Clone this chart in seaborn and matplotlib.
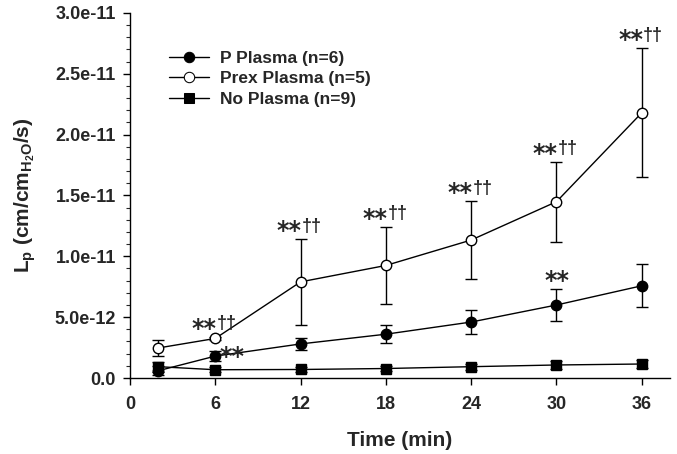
import numpy as np
import pandas as pd
import seaborn as sns
import matplotlib.pyplot as plt
from matplotlib.ticker import FuncFormatter, MultipleLocator

# values
time = [2, 6, 12, 18, 24, 30, 36]
p_mean = [0.6e-12, 1.8e-12, 2.8e-12, 3.6e-12, 4.6e-12, 6.0e-12, 7.58e-12]
p_err = [0.35e-12, 0.4e-12, 0.5e-12, 0.75e-12, 0.95e-12, 1.35e-12, 1.78e-12]
prex_mean = [2.47e-12, 3.25e-12, 7.9e-12, 9.25e-12, 1.134e-11, 1.449e-11, 2.18e-11]
prex_err = [0.65e-12, 0.15e-12, 3.55e-12, 3.2e-12, 3.2e-12, 3.3e-12, 5.3e-12]
nop_mean = [0.93e-12, 0.68e-12, 0.7e-12, 0.78e-12, 0.93e-12, 1.07e-12, 1.15e-12]
nop_err = [0.4e-12, 0.2e-12, 0.2e-12, 0.2e-12, 0.25e-12, 0.3e-12, 0.35e-12]
groups = ['P Plasma (n=6)', 'Prex Plasma (n=5)', 'No Plasma (n=9)']
# significance marks: "**††" on prex, "**" on P
dagger_times = [6, 12, 18, 24, 30, 36]
star_p_times = [6, 30]

sns.set_style('ticks')
plt.rcParams['font.family'] = ['Liberation Sans', 'DejaVu Sans']
plt.rcParams['font.weight'] = 'bold'
plt.rcParams['mathtext.fontset'] = 'custom'
plt.rcParams['mathtext.rm'] = 'Liberation Sans:bold'
plt.rcParams['mathtext.it'] = 'Liberation Sans:bold'
plt.rcParams['mathtext.bf'] = 'Liberation Sans:bold'

df = pd.DataFrame({
    'Time': time * 3,
    'Lp': p_mean + prex_mean + nop_mean,
    'group': [groups[0]] * 7 + [groups[1]] * 7 + [groups[2]] * 7,
})

fig = plt.figure(figsize=(6.77, 4.54), dpi=100)
ax = fig.add_axes([0.192, 0.1674, 0.798, 0.804])

# error bars first so markers sit on top
for m, e in [(p_mean, p_err), (prex_mean, prex_err), (nop_mean, nop_err)]:
    ax.errorbar(time, m, yerr=e, fmt='none', ecolor='black', elinewidth=1,
                capsize=4.5, capthick=1, zorder=2)

sns.lineplot(data=df, x='Time', y='Lp', hue='group', style='group',
             palette=['black'] * 3, markers=['o', 'o', 's'], dashes=False,
             markersize=8, linewidth=1, ax=ax, zorder=3)

# marker faces: filled / open / filled
styles = {0: ('black', 7.5), 1: ('white', 7.5), 2: ('black', 6.5)}
for ln in ax.get_lines():
    yd = np.asarray(ln.get_ydata(), dtype=float)
    if len(yd) != 7:
        continue
    for k, m in enumerate([p_mean, prex_mean, nop_mean]):
        if np.allclose(yd, m, rtol=1e-6, atol=0):
            ln.set_markerfacecolor(styles[k][0])
            ln.set_markeredgecolor('black')
            ln.set_markeredgewidth(1)
            ln.set_markersize(styles[k][1])

# annotations
for t in dagger_times:
    i = time.index(t)
    top = prex_mean[i] + prex_err[i]
    ax.annotate('**', (t, top), xytext=(1, -3), textcoords='offset points',
                ha='right', va='bottom', fontsize=17, family='DejaVu Sans')
    ax.annotate('\u2020\u2020', (t, top), xytext=(1, 3), textcoords='offset points',
                ha='left', va='bottom', fontsize=13)
i = time.index(6)
ax.annotate('**', (6, p_mean[i]), xytext=(3, -1), textcoords='offset points',
            ha='left', va='center', fontsize=17, family='DejaVu Sans')
i = time.index(30)
ax.annotate('**', (30, p_mean[i] + p_err[i]), xytext=(0, -3), textcoords='offset points',
            ha='center', va='bottom', fontsize=17, family='DejaVu Sans')

ax.set_xlim(0, 38)
ax.set_ylim(0, 3.0e-11)
ax.set_xticks([0, 6, 12, 18, 24, 30, 36])
ax.yaxis.set_major_locator(MultipleLocator(5e-12))
ax.yaxis.set_minor_locator(MultipleLocator(1e-12))
ax.yaxis.set_major_formatter(FuncFormatter(lambda v, p: '0.0' if abs(v) < 1e-20 else f'{v:.1e}'))
ax.tick_params(axis='both', labelsize=13, direction='out', length=5, width=1, color='black')
ax.tick_params(axis='x', pad=8)
ax.tick_params(axis='y', pad=5)
ax.tick_params(axis='y', which='minor', length=3, width=0.8)
for lab in ax.get_xticklabels() + ax.get_yticklabels():
    lab.set_fontweight('bold')
sns.despine(ax=ax)
for s in ['left', 'bottom']:
    ax.spines[s].set_color('black')
    ax.spines[s].set_linewidth(1)

ax.set_xlabel('Time (min)', fontsize=15, fontweight='bold', labelpad=13)
ax.set_ylabel(r'L$_p$ (cm/cm$_{H_2O}$/s)', fontsize=15, fontweight='bold', labelpad=12)

h, l = ax.get_legend_handles_labels()
ax.legend(h, l, loc='upper left', bbox_to_anchor=(0.06, 0.915), frameon=False,
          fontsize=12.5, handlelength=2.3, handletextpad=0.6, labelspacing=0.3,
          borderaxespad=0)
for txt in ax.get_legend().get_texts():
    txt.set_fontweight('bold')
for k, hd in enumerate(ax.get_legend().legend_handles):
    hd.set_markerfacecolor(styles[k][0])
    hd.set_markeredgecolor('black')
    hd.set_markersize(styles[k][1])

fig.savefig('out.png', dpi=100)
